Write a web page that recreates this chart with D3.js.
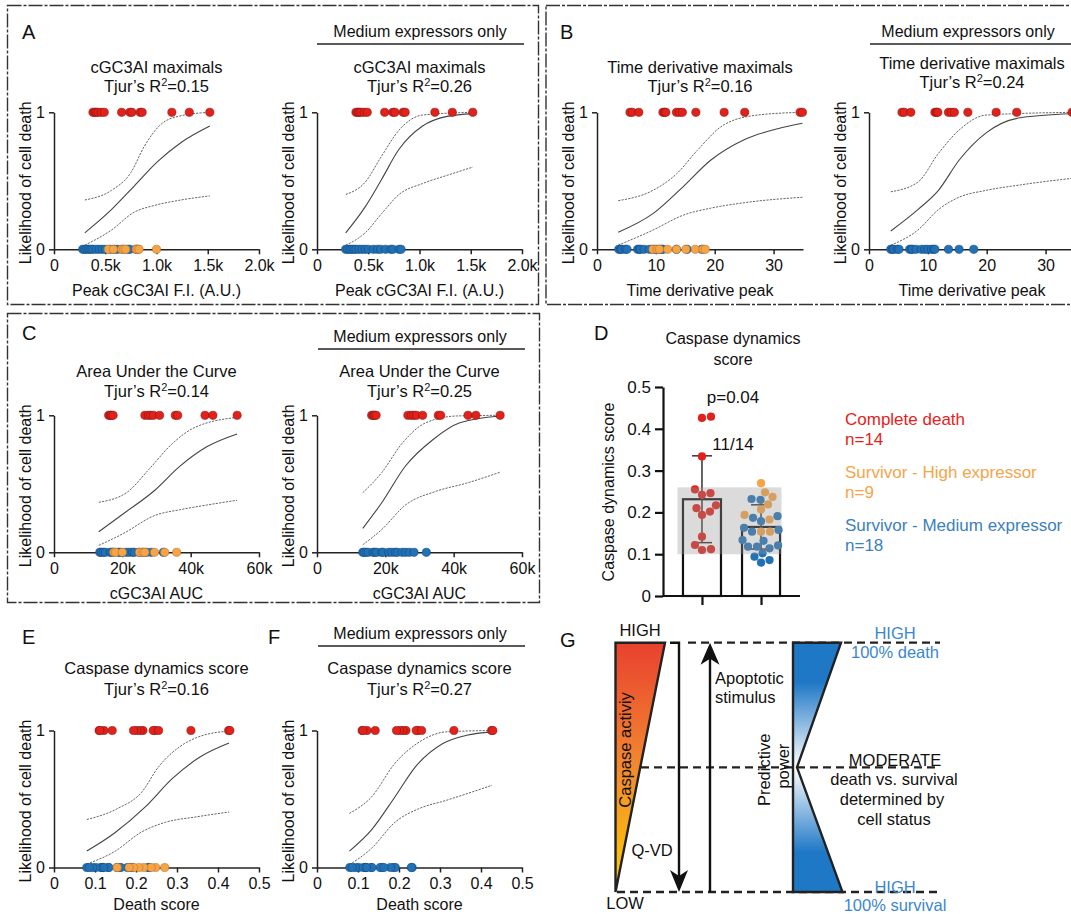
<!DOCTYPE html>
<html>
<head>
<meta charset="UTF-8">
<title>Caspase dynamics figure</title>
<script src="https://d3js.org/d3.v7.min.js"></script>
<style>
  body { margin: 0; background: #fff; }
  svg text { font-family: "Liberation Sans", Arial, Helvetica, sans-serif; fill: #111; }
</style>
</head>
<body>
<div id="fig"></div>
<script>
// ---------- data ----------
// A: peak cGC3AI F.I. (thousands)
const aDeath = [0.38, 0.40, 0.41, 0.43, 0.46, 0.49, 0.66, 0.74, 0.76, 0.84, 0.86, 1.15, 1.32, 1.52];
const aHigh = [0.53, 0.58, 0.66, 0.68, 0.70, 0.80, 0.81, 0.83, 1.00];
const aMed = [0.28, 0.30, 0.32, 0.34, 0.36, 0.38, 0.41, 0.44, 0.47, 0.50, 0.55, 0.59, 0.62, 0.67, 0.72, 0.74, 0.80, 0.82];
const aFitAll = [[0.30, 0.12], [0.56, 0.29], [0.78, 0.46], [1.01, 0.64], [1.24, 0.78], [1.52, 0.90]];
const aUpAll = [[0.30, 0.36], [0.56, 0.43], [0.75, 0.56], [0.88, 0.75], [1.04, 0.91], [1.21, 0.97], [1.52, 1.0]];
const aLoAll = [[0.30, 0.03], [0.56, 0.14], [0.78, 0.27], [0.98, 0.32], [1.24, 0.36], [1.52, 0.39]];
const aFitMed = [[0.28, 0.12], [0.47, 0.31], [0.63, 0.51], [0.80, 0.73], [1.03, 0.90], [1.27, 0.97], [1.52, 0.99]];
const aUpMed = [[0.28, 0.40], [0.47, 0.49], [0.63, 0.68], [0.80, 0.87], [1.03, 0.98], [1.52, 1.0]];
const aLoMed = [[0.28, 0.03], [0.47, 0.12], [0.63, 0.26], [0.80, 0.40], [1.03, 0.48], [1.27, 0.54], [1.52, 0.60]];
const aTicks = [0, 0.5, 1.0, 1.5, 2.0];
const aTickLabels = ["0", "0.5k", "1.0k", "1.5k", "2.0k"];

// B: time derivative peak
const bDeath = [5.6, 6.0, 7.1, 11.2, 11.5, 11.7, 13.5, 14.0, 14.5, 16.8, 21.6, 25.1, 34.5, 34.9];
const bHigh = [9.5, 10.2, 10.6, 12.0, 13.5, 15.1, 16.7, 18.0, 18.4];
const bMed = [3.7, 4.0, 4.2, 4.8, 5.1, 6.9, 7.2, 7.4, 8.0, 8.9, 9.5, 10.0, 10.6, 11.0, 11.2, 13.5, 15.3, 17.8];
const bFitAll = [[3.6, 0.124], [9.5, 0.26], [14.7, 0.46], [19.3, 0.65], [25, 0.80], [30.7, 0.88], [34.9, 0.92]];
const bUpAll = [[3.6, 0.355], [9.5, 0.43], [13.5, 0.55], [17, 0.72], [21.6, 0.91], [27.3, 0.98], [34.9, 1.0]];
const bLoAll = [[3.6, 0.03], [9.5, 0.14], [14.7, 0.25], [19.3, 0.30], [25, 0.34], [34.9, 0.38]];
const bFitMed = [[3.7, 0.134], [8.3, 0.29], [11.8, 0.43], [15.3, 0.65], [19.9, 0.85], [25.7, 0.96], [34.9, 0.99]];
const bUpMed = [[3.7, 0.42], [8.3, 0.49], [11.8, 0.70], [15.3, 0.87], [19.9, 0.98], [34.9, 1.0]];
const bLoMed = [[3.7, 0.03], [8.3, 0.14], [11.8, 0.29], [15.3, 0.38], [19.9, 0.43], [25.7, 0.47], [34.9, 0.52]];
const bTicks = [0, 10, 20, 30];
const bTickLabels = ["0", "10", "20", "30"];

// C: cGC3AI AUC (thousands)
const cDeath = [16.0, 16.5, 16.8, 17.3, 26.6, 27.6, 28.3, 29.1, 30.9, 35.5, 36.2, 44.2, 46.5, 53.6];
const cHigh = [17.5, 18.0, 20.0, 25.0, 26.0, 26.6, 29.4, 32.4, 35.9];
const cMed = [13.4, 13.8, 14.4, 15.0, 16.4, 16.9, 17.5, 18.9, 19.4, 21.0, 21.9, 22.9, 23.5, 24.9, 25.9, 27.0, 28.4, 32.0];
const cFitAll = [[13.1, 0.15], [20.5, 0.285], [29.6, 0.455], [36.7, 0.625], [44.7, 0.77], [53.6, 0.864]];
const cUpAll = [[13.1, 0.365], [21.5, 0.44], [27.6, 0.60], [34.7, 0.795], [40.7, 0.905], [53.6, 0.985]];
const cLoAll = [[13.1, 0.05], [20.5, 0.14], [29.6, 0.27], [36.7, 0.31], [44.7, 0.345], [53.6, 0.38]];
const cFitMed = [[13.4, 0.175], [18.9, 0.36], [25.9, 0.63], [33.8, 0.82], [41.8, 0.945], [53.6, 0.995]];
const cUpMed = [[13.4, 0.435], [18.9, 0.58], [24.9, 0.795], [31.8, 0.945], [40.8, 0.995], [53.6, 1.0]];
const cLoMed = [[13.4, 0.055], [18.9, 0.165], [25.9, 0.345], [34.8, 0.445], [43.8, 0.505], [53.6, 0.585]];
const cTicks = [0, 20, 40, 60];
const cTickLabels = ["0", "20k", "40k", "60k"];

// D / E / F: caspase dynamics (death) score
const dDeath = [0.426, 0.429, 0.334, 0.246, 0.242, 0.255, 0.217, 0.21, 0.202, 0.194, 0.142, 0.122, 0.11, 0.112];
const dHigh = [0.27, 0.248, 0.237, 0.219, 0.207, 0.194, 0.183, 0.154, 0.154];
const dMed = [0.232, 0.23, 0.187, 0.191, 0.179, 0.158, 0.154, 0.163, 0.132, 0.134, 0.118, 0.118, 0.114, 0.121, 0.102, 0.08, 0.094, 0.086];
const dBand = [0.10, 0.26];
const dTicks = [0, 0.1, 0.2, 0.3, 0.4, 0.5];
const dTickLabels = ["0", "0.1", "0.2", "0.3", "0.4", "0.5"];
const eFitAll = [[0.08, 0.12], [0.147, 0.25], [0.222, 0.44], [0.289, 0.65], [0.356, 0.806], [0.427, 0.908]];
const eUpAll = [[0.08, 0.35], [0.155, 0.43], [0.214, 0.55], [0.255, 0.735], [0.306, 0.88], [0.364, 0.965], [0.427, 0.995]];
const eLoAll = [[0.08, 0.025], [0.147, 0.115], [0.214, 0.26], [0.272, 0.33], [0.348, 0.37], [0.427, 0.405]];
const eFitMed = [[0.079, 0.12], [0.133, 0.275], [0.19, 0.515], [0.24, 0.735], [0.307, 0.905], [0.365, 0.965], [0.427, 0.99]];
const eUpMed = [[0.079, 0.395], [0.133, 0.515], [0.19, 0.76], [0.249, 0.915], [0.315, 0.99], [0.427, 1.0]];
const eLoMed = [[0.079, 0.02], [0.133, 0.14], [0.19, 0.33], [0.249, 0.43], [0.315, 0.49], [0.427, 0.6]];

const legendLabels = ["Complete death", "Survivor - High expressor", "Survivor - Medium expressor"];

// ---------- drawing ----------
const RED = "#e2211b", ORANGE = "#f6a446", BLUE = "#2271b5";
const W = 1071, H = 914;
const svg = d3.select("#fig").append("svg").attr("width", W).attr("height", H);
svg.append("rect").attr("width", W).attr("height", H).attr("fill", "#fff");

// panel frames
[[7.5, 5.5, 531, 299], [546, 5.5, 530, 299], [7.5, 313.5, 532, 289]].forEach(f => {
  svg.append("rect").attr("x", f[0]).attr("y", f[1]).attr("width", f[2]).attr("height", f[3])
    .attr("fill", "none").attr("stroke", "#333").attr("stroke-width", 1.4).attr("stroke-dasharray", "14,2,3,2");
});

function letter(t, x, y) {
  svg.append("text").attr("x", x).attr("y", y).attr("font-size", 20).text(t);
}
letter("A", 22, 39); letter("B", 560, 39); letter("C", 22, 340);
letter("D", 594, 340); letter("E", 22, 644); letter("F", 268, 644); letter("G", 560, 647);

function header(cx, y, x0, x1) {
  svg.append("text").attr("x", cx).attr("y", y).attr("text-anchor", "middle").attr("font-size", 16)
    .text("Medium expressors only");
  svg.append("line").attr("x1", x0).attr("x2", x1).attr("y1", y + 7).attr("y2", y + 7)
    .attr("stroke", "#222").attr("stroke-width", 1.5);
}

const rows = {
  r1: {y1: 112.3, y0: 249.3, t1: 73, t2: 92, xl: 296},
  r2: {y1: 415.3, y0: 552.3, t1: 377, t2: 397, xl: 599},
  r3: {y1: 730.5, y0: 867.5, t1: 674, t2: 695, xl: 910}
};

function logitPlot(o) {
  const row = rows[o.row];
  const x = d3.scaleLinear().domain(o.domain).range([o.left, o.left + o.width]);
  const y = d3.scaleLinear().domain([0, 1]).range([row.y0, row.y1]);
  const g = svg.append("g");
  const cx = o.left + o.width / 2;

  // titles
  g.append("text").attr("x", cx).attr("y", row.t1 + (o.dt || 0)).attr("text-anchor", "middle")
    .attr("font-size", 16.5).text(o.title);
  const tt = g.append("text").attr("x", cx).attr("y", row.t2 + (o.dt || 0)).attr("text-anchor", "middle")
    .attr("font-size", 16.5);
  tt.append("tspan").text("Tjur\u2019s R");
  tt.append("tspan").attr("dy", -6).attr("font-size", 11).text("2");
  tt.append("tspan").attr("dy", 6).text("=" + o.r2);

  // axes
  const xa = g.append("g").attr("transform", `translate(0,${row.y0})`)
    .call(d3.axisBottom(x).tickValues(o.ticks).tickFormat((d, i) => o.tickLabels[i])
      .tickSize(5).tickSizeOuter(0).tickPadding(5));
  const ya = g.append("g").attr("transform", `translate(${o.left},0)`)
    .call(d3.axisLeft(y).tickValues([0, 1]).tickFormat(d3.format("d"))
      .tickSize(5).tickSizeOuter(0).tickPadding(4));
  [xa, ya].forEach(a => {
    a.selectAll("path,line").attr("stroke", "#222").attr("stroke-width", 1.5);
    a.selectAll("text").attr("font-size", 16).attr("fill", "#111")
      .attr("font-family", '"Liberation Sans", Arial, sans-serif');
  });

  g.append("text").attr("x", cx).attr("y", row.xl).attr("text-anchor", "middle")
    .attr("font-size", 16).text(o.xlabel);
  g.append("text").attr("transform", `translate(${o.left - 23},${(row.y0 + row.y1) / 2 + 2}) rotate(-90)`)
    .attr("text-anchor", "middle").attr("font-size", 16).text("Likelihood of cell death");

  // fit and confidence band
  const line = d3.line().x(d => x(d[0])).y(d => y(d[1])).curve(d3.curveMonotoneX);
  [o.up, o.lo].forEach(c => {
    g.append("path").attr("d", line(c)).attr("fill", "none").attr("stroke", "#666")
      .attr("stroke-width", 1).attr("stroke-dasharray", "2.2,1.2");
  });
  g.append("path").attr("d", line(o.fit)).attr("fill", "none").attr("stroke", "#444").attr("stroke-width", 1.1);

  // points
  const groups = [[o.med, 0, BLUE, "#0e4a82"]];
  if (o.high) groups.push([o.high, 0, ORANGE, "#b7752c"]);
  groups.push([o.death, 1, RED, "#8a120e"]);
  groups.forEach(([vals, lvl, fill, stroke]) => {
    g.append("g").selectAll("circle").data(vals).join("circle")
      .attr("cx", d => x(d)).attr("cy", y(lvl)).attr("r", 4.1)
      .attr("fill", fill).attr("stroke", stroke).attr("stroke-width", 0.6);
  });
}

const plots = [
  {row: "r1", left: 54, width: 205, domain: [0, 2], ticks: aTicks, tickLabels: aTickLabels, title: "cGC3AI maximals", r2: "0.15",
    xlabel: "Peak cGC3AI F.I. (A.U.)", death: aDeath, high: aHigh, med: aMed, fit: aFitAll, up: aUpAll, lo: aLoAll},
  {row: "r1", left: 317, width: 205, domain: [0, 2], ticks: aTicks, tickLabels: aTickLabels, title: "cGC3AI maximals", r2: "0.26",
    xlabel: "Peak cGC3AI F.I. (A.U.)", death: aDeath, med: aMed, fit: aFitMed, up: aUpMed, lo: aLoMed},
  {row: "r1", left: 597, width: 206, domain: [0, 35], ticks: bTicks, tickLabels: bTickLabels, title: "Time derivative maximals", r2: "0.16",
    xlabel: "Time derivative peak", death: bDeath, high: bHigh, med: bMed, fit: bFitAll, up: bUpAll, lo: bLoAll},
  {row: "r1", left: 869, width: 206, domain: [0, 35], ticks: bTicks, tickLabels: bTickLabels, title: "Time derivative maximals", r2: "0.24", dt: -4,
    xlabel: "Time derivative peak", death: bDeath, med: bMed, fit: bFitMed, up: bUpMed, lo: bLoMed},
  {row: "r2", left: 54, width: 205, domain: [0, 60], ticks: cTicks, tickLabels: cTickLabels, title: "Area Under the Curve", r2: "0.14",
    xlabel: "cGC3AI AUC", death: cDeath, high: cHigh, med: cMed, fit: cFitAll, up: cUpAll, lo: cLoAll},
  {row: "r2", left: 317, width: 205, domain: [0, 60], ticks: cTicks, tickLabels: cTickLabels, title: "Area Under the Curve", r2: "0.25",
    xlabel: "cGC3AI AUC", death: cDeath, med: cMed, fit: cFitMed, up: cUpMed, lo: cLoMed},
  {row: "r3", left: 54, width: 205, domain: [0, 0.5], ticks: dTicks, tickLabels: dTickLabels, title: "Caspase dynamics score", r2: "0.16",
    xlabel: "Death score", death: dDeath, high: dHigh, med: dMed, fit: eFitAll, up: eUpAll, lo: eLoAll},
  {row: "r3", left: 317, width: 205, domain: [0, 0.5], ticks: dTicks, tickLabels: dTickLabels, title: "Caspase dynamics score", r2: "0.27",
    xlabel: "Death score", death: dDeath, med: dMed, fit: eFitMed, up: eUpMed, lo: eLoMed}
];
plots.forEach(logitPlot);

header(420, 37, 317, 524);
header(968, 37, 870, 1071);
header(420, 342, 318, 525);
header(420, 639, 318, 525);

// ---------- D: bar chart ----------
(function () {
  const g = svg.append("g");
  const y = d3.scaleLinear().domain([0, 0.5]).range([596, 387]);
  const x = d3.scalePoint().domain(["death", "survivor"]).range([663, 800]).padding(0.66);
  const bw = 38;
  const groups = [
    {key: "death", pts: dDeath.map(v => ({v, c: RED}))},
    {key: "survivor", pts: dHigh.map(v => ({v, c: ORANGE})).concat(dMed.map(v => ({v, c: BLUE})))}
  ];
  groups.forEach(gr => {
    const vals = gr.pts.map(p => p.v);
    gr.mean = d3.mean(vals);
    gr.sd = d3.deviation(vals);
  });

  g.append("text").attr("x", 733).attr("y", 344).attr("text-anchor", "middle").attr("font-size", 16).text("Caspase dynamics");
  g.append("text").attr("x", 733).attr("y", 365).attr("text-anchor", "middle").attr("font-size", 16).text("score");

  // bars
  g.selectAll(".bar").data(groups).join("rect")
    .attr("x", d => x(d.key) - bw / 2).attr("width", bw)
    .attr("y", d => y(d.mean)).attr("height", d => y(0) - y(d.mean))
    .attr("fill", "#fff").attr("stroke", "#111").attr("stroke-width", 2.2);

  // error bars (mean ± SD)
  groups.forEach(d => {
    const cx = x(d.key);
    const eg = g.append("g").attr("stroke", "#333").attr("stroke-width", 1.5);
    eg.append("line").attr("x1", cx).attr("x2", cx).attr("y1", y(d.mean + d.sd)).attr("y2", y(d.mean - d.sd));
    [d.mean + d.sd, d.mean - d.sd].forEach(v => {
      eg.append("line").attr("x1", cx - 10).attr("x2", cx + 10).attr("y1", y(v)).attr("y2", y(v));
    });
  });

  // swarm of points
  const r = 4.1;
  groups.forEach(gr => {
    const cx = x(gr.key);
    const placed = [];
    const sorted = gr.pts.slice().sort((a, b) => a.v - b.v);
    sorted.forEach(p => {
      const py = y(p.v);
      let off = 0;
      for (let k = 0; k < 200; k++) {
        const cand = (k % 2 ? 1 : -1) * Math.ceil(k / 2) * 0.5;
        const ok = placed.every(q => Math.hypot(q.x - (cx + cand), q.y - py) >= 2 * r + 0.4);
        if (ok) { off = cand; break; }
      }
      placed.push({x: cx + off, y: py, c: p.c});
    });
    g.append("g").selectAll("circle").data(placed).join("circle")
      .attr("cx", d => d.x).attr("cy", d => d.y).attr("r", r).attr("fill", d => d.c);
  });

  // shaded band
  g.append("rect").attr("x", x("death") - 24.5).attr("width", x("survivor") + 20.5 - (x("death") - 24.5))
    .attr("y", y(dBand[1])).attr("height", y(dBand[0]) - y(dBand[1]))
    .attr("fill", "#999").attr("fill-opacity", 0.35);

  // axes
  const ya = g.append("g").attr("transform", "translate(663,0)")
    .call(d3.axisLeft(y).tickValues(dTicks).tickFormat((d, i) => dTickLabels[i]).tickSize(8).tickSizeOuter(0).tickPadding(4));
  const xa = g.append("g").attr("transform", `translate(0,${y(0)})`)
    .call(d3.axisBottom(x).tickSize(9).tickSizeOuter(0).tickFormat(""));
  xa.select(".domain").attr("d", `M663,0H800`);
  [xa, ya].forEach(a => {
    a.selectAll("path,line").attr("stroke", "#111").attr("stroke-width", 2.2);
    a.selectAll("text").attr("font-size", 17).attr("fill", "#111")
      .attr("font-family", '"Liberation Sans", Arial, sans-serif');
  });

  g.append("text").attr("transform", "translate(614,492) rotate(-90)").attr("text-anchor", "middle")
    .attr("font-size", 16).text("Caspase dynamics score");
  g.append("text").attr("x", 733).attr("y", 403).attr("text-anchor", "middle").attr("font-size", 17).text("p=0.04");
  g.append("text").attr("x", 733).attr("y", 450).attr("text-anchor", "middle").attr("font-size", 17).text("11/14");

  // legend
  const counts = [dDeath.length, dHigh.length, dMed.length];
  const lcol = ["#e8221b", "#f5a54a", "#3b80c0"];
  legendLabels.forEach((lab, i) => {
    g.append("text").attr("x", 845).attr("y", 425 + i * 53).attr("font-size", 17).style("fill", lcol[i]).text(lab);
    g.append("text").attr("x", 845).attr("y", 445 + i * 53).attr("font-size", 17).style("fill", lcol[i]).text("n=" + counts[i]);
  });
})();

// ---------- G: schematic ----------
(function () {
  const g = svg.append("g");
  const gy = d3.scaleLinear().domain([0, 1]).range([892, 642.7]);
  const defs = svg.append("defs");
  const warm = defs.append("linearGradient").attr("id", "warm").attr("x1", 0).attr("y1", 0).attr("x2", 0).attr("y2", 1);
  warm.append("stop").attr("offset", "0%").attr("stop-color", "#e8412f");
  warm.append("stop").attr("offset", "50%").attr("stop-color", "#f3892f");
  warm.append("stop").attr("offset", "100%").attr("stop-color", "#fdd000");
  const cool = defs.append("linearGradient").attr("id", "cool").attr("x1", 0).attr("y1", 0).attr("x2", 0).attr("y2", 1);
  [["0%", "#1f78c6"], ["16%", "#1f78c6"], ["50%", "#ffffff"], ["84%", "#1f78c6"], ["100%", "#1f78c6"]].forEach(s => {
    cool.append("stop").attr("offset", s[0]).attr("stop-color", s[1]);
  });

  // dashed level lines
  const dash = g.append("g").attr("stroke", "#222").attr("stroke-width", 2.3).attr("stroke-dasharray", "8,5");
  dash.append("line").attr("x1", 688).attr("x2", 940).attr("y1", gy(1)).attr("y2", gy(1));
  dash.append("line").attr("x1", 641).attr("x2", 940).attr("y1", gy(0.5)).attr("y2", gy(0.5));
  dash.append("line").attr("x1", 617).attr("x2", 940).attr("y1", gy(0)).attr("y2", gy(0));

  // caspase activity wedge
  g.append("path").attr("d", `M615.5,${gy(1)}L665,${gy(1)}L615.5,${gy(0)}Z`)
    .attr("fill", "url(#warm)").attr("stroke", "#222").attr("stroke-width", 2.4).attr("stroke-linejoin", "miter");
  g.append("text").attr("transform", `translate(631,${gy(0.57)}) rotate(-90)`).attr("text-anchor", "middle")
    .attr("font-size", 16.5).text("Caspase activiy");

  // predictive power shape
  g.append("path").attr("d", `M793,${gy(1)}L841,${gy(1)}L797,${gy(0.5)}L842.5,${gy(0)}L793,${gy(0)}Z`)
    .attr("fill", "url(#cool)").attr("stroke", "#222").attr("stroke-width", 2.4);

  // arrows
  const ag = g.append("g");
  ag.append("path").attr("d", `M670,${gy(1)}H679V${gy(0) - 14}`).attr("fill", "none")
    .attr("stroke", "#111").attr("stroke-width", 2.4);
  ag.append("path").attr("d", `M679,${gy(0)}L670,${gy(0) - 22}L679,${gy(0) - 16}L688,${gy(0) - 22}Z`).attr("fill", "#111");
  ag.append("line").attr("x1", 710).attr("x2", 710).attr("y1", gy(0)).attr("y2", gy(1) + 14)
    .attr("stroke", "#111").attr("stroke-width", 2.4);
  ag.append("path").attr("d", `M710,${gy(1)}L700.5,${gy(1) + 22}L710,${gy(1) + 16}L719.5,${gy(1) + 22}Z`).attr("fill", "#111");

  const t = (txt, x, y, opts = {}) => g.append("text").attr("x", x).attr("y", y)
    .attr("text-anchor", opts.anchor || "middle").attr("font-size", opts.size || 16.5)
    .style("fill", opts.fill || "#111").text(txt);
  t("HIGH", 640, 636);
  t("LOW", 625, 909);
  t("Apoptotic", 715, 684, {anchor: "start"});
  t("stimulus", 715, 703, {anchor: "start"});
  t("Q-VD", 652, 856);
  g.append("text").attr("transform", `translate(770,${gy(0.49)}) rotate(-90)`).attr("text-anchor", "middle")
    .attr("font-size", 16.5).text("Predictive");
  g.append("text").attr("transform", `translate(789,${gy(0.505)}) rotate(-90)`).attr("text-anchor", "middle")
    .attr("font-size", 16.5).text("power");
  const blue = "#3a87d0";
  t("HIGH", 895, 639, {fill: blue});
  t("100% death", 895, 658, {fill: blue});
  t("MODERATE", 895, 766);
  t("death vs. survival", 894, 785);
  t("determined by", 892, 805);
  t("cell status", 894, 825);
  t("HIGH", 895, 893, {fill: blue});
  t("100% survival", 895, 911, {fill: blue});
})();
</script>
</body>
</html>
